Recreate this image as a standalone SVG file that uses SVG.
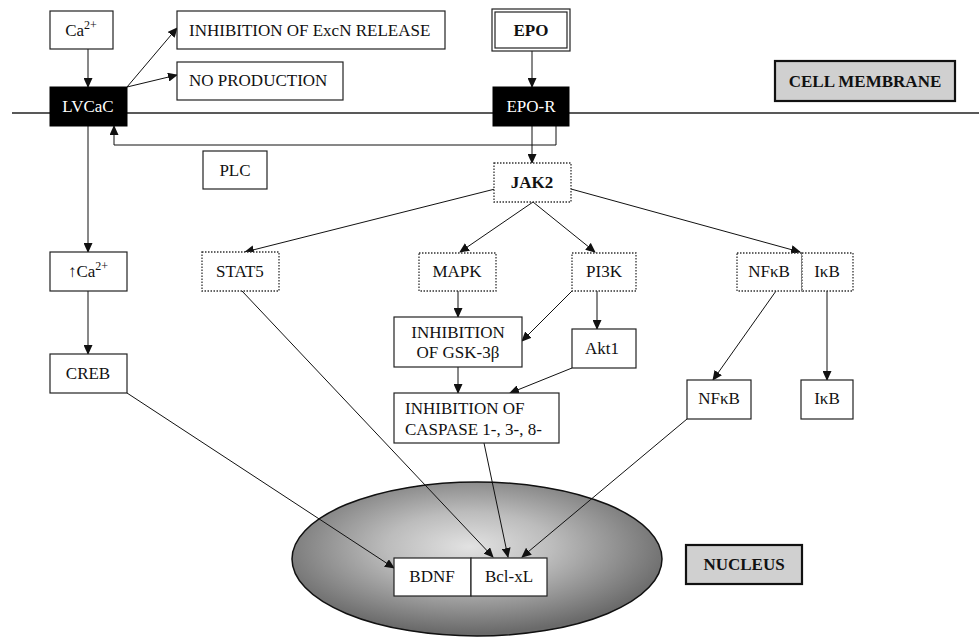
<svg xmlns="http://www.w3.org/2000/svg" width="979" height="640" viewBox="0 0 979 640">
<defs>
<marker id="ah" markerWidth="10" markerHeight="9" refX="9" refY="4.5" orient="auto" markerUnits="userSpaceOnUse">
<path d="M0,0 L10,4.5 L0,9 Z" fill="#111"/>
</marker>
<radialGradient id="nuc" cx="0.48" cy="0.42" r="0.56">
<stop offset="0" stop-color="#e2e2e2"/>
<stop offset="0.4" stop-color="#bcbcbc"/>
<stop offset="1" stop-color="#6a6a6a"/>
</radialGradient>
<style>
text{font-family:"Liberation Serif","Times New Roman",serif;font-size:17px;fill:#111}
.c{text-anchor:middle}
.b{font-weight:bold}
.w{fill:#fff}
.box{fill:#fff;stroke:#222;stroke-width:1.2}
.dot{fill:#fff;stroke:#333;stroke-width:1.3;stroke-dasharray:1.5 1.5}
.blk{fill:#000;stroke:#000}
.gray{fill:#d0d0d0;stroke:#111;stroke-width:2.2}
.ar{fill:none;stroke:#111;stroke-width:1;marker-end:url(#ah)}
</style>
</defs>
<rect width="979" height="640" fill="#fff"/>

<line x1="12" y1="113" x2="979" y2="113" stroke="#222" stroke-width="1.6"/>

<g id="nucleus">
<ellipse cx="477" cy="559" rx="185" ry="77" fill="url(#nuc)" stroke="#111" stroke-width="1.5"/>
</g>

<g id="connectors">
<line class="ar" x1="88" y1="49" x2="88" y2="87"/>
<line class="ar" x1="127" y1="87" x2="177" y2="28"/>
<line class="ar" x1="127" y1="87" x2="177" y2="75"/>
<line class="ar" x1="532" y1="51" x2="532" y2="87"/>
<polyline class="ar" points="556,126 556,145 114,145 114,126"/>
<line class="ar" x1="532" y1="126" x2="532" y2="163"/>
<line class="ar" x1="88" y1="126" x2="88" y2="252"/>
<line class="ar" x1="88" y1="291" x2="88" y2="354"/>
<line class="ar" x1="495" y1="189" x2="245" y2="252"/>
<line class="ar" x1="533" y1="202" x2="460" y2="252"/>
<line class="ar" x1="533" y1="202" x2="595" y2="252"/>
<line class="ar" x1="571" y1="189" x2="800" y2="252"/>
<line class="ar" x1="458" y1="291" x2="458" y2="317"/>
<line class="ar" x1="572" y1="291" x2="522" y2="341"/>
<line class="ar" x1="597" y1="291" x2="597" y2="329"/>
<line class="ar" x1="458" y1="367" x2="458" y2="393"/>
<line class="ar" x1="572" y1="368" x2="510" y2="393"/>
<line class="ar" x1="776" y1="291" x2="713" y2="380"/>
<line class="ar" x1="827" y1="291" x2="827" y2="380"/>
<line class="ar" x1="242" y1="291" x2="493" y2="557"/>
<line class="ar" x1="484" y1="443" x2="508" y2="557"/>
<line class="ar" x1="687" y1="419" x2="522" y2="557"/>
<line class="ar" x1="127" y1="393" x2="394" y2="568"/>
</g>

<g id="ca"><rect class="box" x="50" y="11" width="63" height="38"/><text class="c" x="81" y="36">Ca<tspan font-size="12" dy="-7">2+</tspan></text></g>
<g id="inhibExcN"><rect class="box" x="177" y="11" width="268" height="38"/><text x="189" y="36">INHIBITION OF ExcN RELEASE</text></g>
<g id="noProd"><rect class="box" x="177" y="62" width="166" height="38"/><text x="189" y="86">NO PRODUCTION</text></g>
<g id="lvcac"><rect class="blk" x="50" y="87" width="77" height="39"/><text class="c w" x="88" y="112">LVCaC</text></g>
<g id="epo"><rect class="box" x="492" y="9" width="78" height="42"/><rect class="box" x="495" y="12" width="72" height="36"/><text class="c b" x="531" y="36">EPO</text></g>
<g id="epor"><rect class="blk" x="493" y="87" width="76" height="39"/><text class="c w" x="531" y="112">EPO-R</text></g>
<g id="cellMembrane"><rect class="gray" x="775" y="61" width="180" height="40"/><text class="c b" x="865" y="87">CELL MEMBRANE</text></g>
<g id="plc"><rect class="box" x="203" y="151" width="64" height="38"/><text class="c" x="235" y="176">PLC</text></g>
<g id="jak2"><rect class="dot" x="494" y="163" width="77" height="39"/><text class="c b" x="532" y="188">JAK2</text></g>
<g id="upCa"><rect class="box" x="50" y="252" width="77" height="39"/><text class="c" x="88" y="277">↑Ca<tspan font-size="12" dy="-7">2+</tspan></text></g>
<g id="stat5"><rect class="dot" x="202" y="252" width="77" height="39"/><text class="c" x="240" y="277">STAT5</text></g>
<g id="mapk"><rect class="dot" x="419" y="253" width="77" height="38"/><text class="c" x="457" y="277">MAPK</text></g>
<g id="pi3k"><rect class="dot" x="572" y="253" width="64" height="38"/><text class="c" x="604" y="277">PI3K</text></g>
<g id="nfkbIkb"><rect class="dot" x="737" y="253" width="65" height="38"/><rect class="dot" x="802" y="253" width="51" height="38"/><text class="c" x="769" y="277">NFκB</text><text class="c" x="827" y="277">IκB</text></g>
<g id="creb"><rect class="box" x="50" y="354" width="77" height="39"/><text class="c" x="88" y="379">CREB</text></g>
<g id="gsk"><rect class="box" x="394" y="317" width="128" height="50"/><text class="c" x="458" y="338">INHIBITION</text><text class="c" x="458" y="358">OF GSK-3β</text></g>
<g id="akt1"><rect class="box" x="572" y="329" width="64" height="39"/><text class="c" x="602" y="354">Akt1</text></g>
<g id="caspase"><rect class="box" x="394" y="393" width="165" height="50"/><text x="405" y="414">INHIBITION OF</text><text x="405" y="435">CASPASE 1-, 3-, 8-</text></g>
<g id="nfkb"><rect class="box" x="687" y="380" width="64" height="39"/><text class="c" x="719" y="404">NFκB</text></g>
<g id="ikb"><rect class="box" x="801" y="380" width="52" height="39"/><text class="c" x="827" y="404">IκB</text></g>
<g id="bdnf"><rect class="box" x="394" y="558" width="77" height="38"/><text class="c" x="432" y="582">BDNF</text></g>
<g id="bclxl"><rect class="box" x="471" y="558" width="76" height="38"/><text class="c" x="509" y="582">Bcl-xL</text></g>
<g id="nucleusLabel"><rect class="gray" x="686" y="545" width="116" height="39"/><text class="c b" x="744" y="570">NUCLEUS</text></g>
</svg>
